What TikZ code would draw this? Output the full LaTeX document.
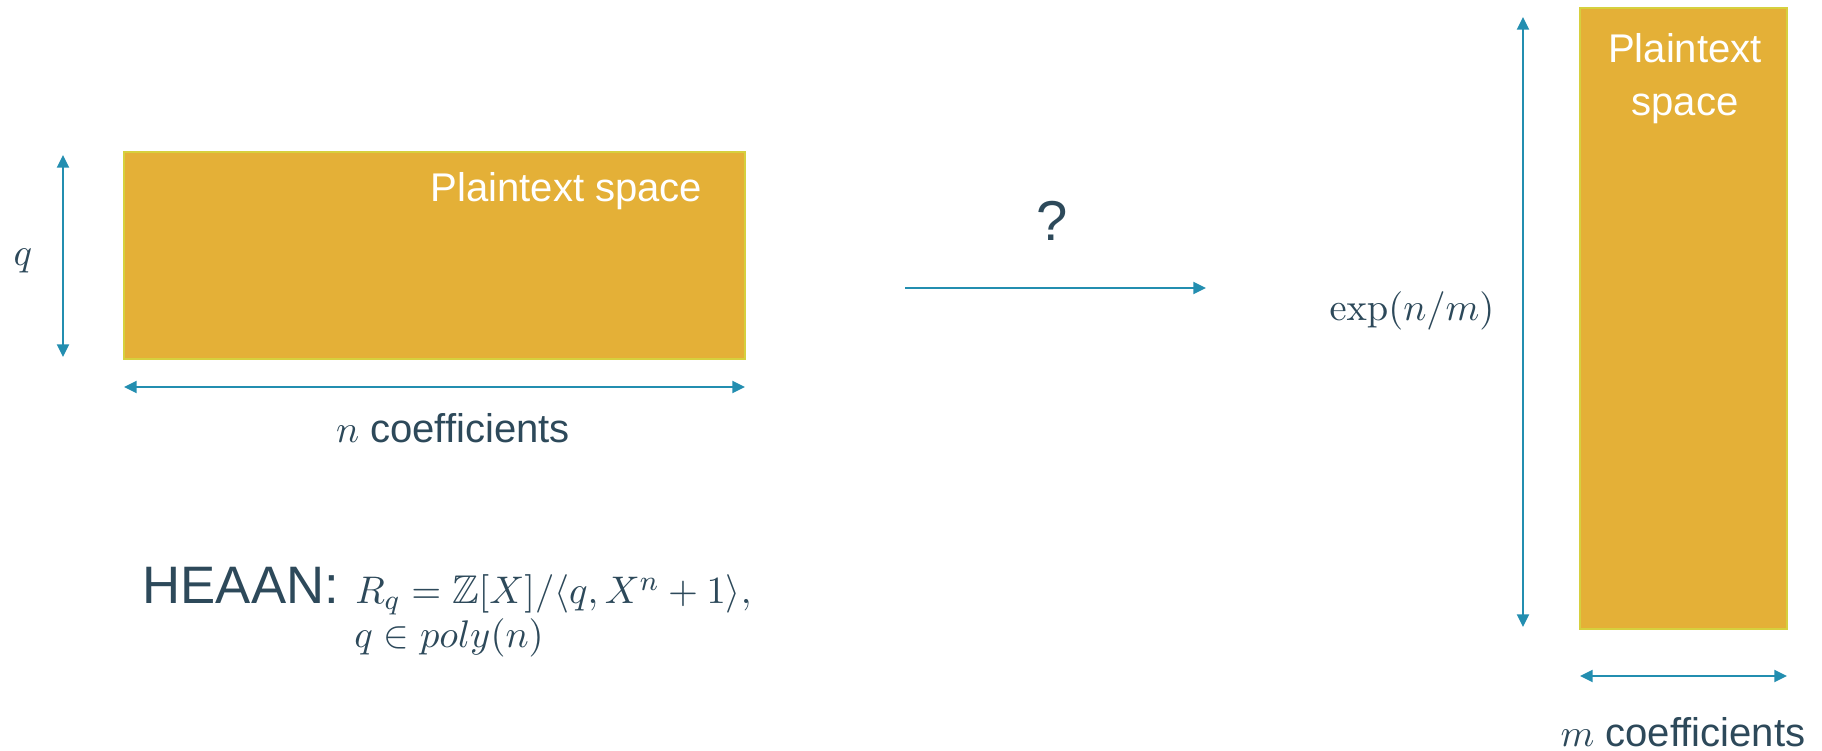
\documentclass[tikz,border=0pt]{standalone}
\usepackage{amsmath,amssymb}
\usepackage[no-math]{fontspec}
\setmainfont{Liberation Sans}
\usetikzlibrary{arrows.meta,positioning}
\definecolor{slate}{RGB}{45,73,90}
\definecolor{gold}{RGB}{228,176,55}
\definecolor{goldedge}{RGB}{214,208,62}
\definecolor{arrowblue}{RGB}{35,142,176}

\begin{document}
\begin{tikzpicture}[
    space/.style={draw=goldedge, fill=gold, line width=0.7pt, inner sep=0pt},
    spacelbl/.style={text=white, font=\fontsize{11.4}{15}\selectfont, align=center, inner sep=0pt},
    lbl/.style={text=slate, font=\fontsize{11.4}{14}\selectfont, inner sep=0pt},
    dim/.style={{Triangle[length=3.6pt,width=3.4pt]}-{Triangle[length=3.6pt,width=3.4pt]}, arrowblue, line width=0.6pt},
    arr/.style={-{Triangle[length=3.6pt,width=3.4pt]}, arrowblue, line width=0.6pt}
]
\useasboundingbox (0,0) rectangle (18.22,7.51);

% left: ring space
\node[space, minimum width=6.21cm, minimum height=2.07cm] (lbox) at (4.345,4.955) {};
\node[spacelbl, anchor=base east] (llbl) at (7.03,5.49) {Plaintext space};
\coordinate (qtop) at (0.63,5.96);
\coordinate (qbot) at (0.63,3.94);
\draw[dim] (qtop) -- (qbot);
\node[lbl] (qlbl) at (0.23,4.90) {$q$};
\coordinate (nl) at (1.24,3.64);
\coordinate (nr) at (7.45,3.64);
\draw[dim] (nl) -- (nr);
\node[lbl] (nlbl) at (4.53,3.23) {$n$ coefficients};

\node[lbl, font=\fontsize{15}{18}\selectfont, anchor=base west] (heaan) at (1.42,1.47) {HEAAN:};
\node[lbl, base right=0.15cm of heaan] (ring) {$R_q=\mathbb{Z}[X]/\langle q,X^n+1\rangle,$};
\node[lbl] (qpoly) at (4.49,1.13) {$q\in poly(n)$};

% middle: the map
\node[lbl, font=\fontsize{16}{19}\selectfont] (qm) at (10.52,5.30) {?};
\coordinate (mapfrom) at (9.05,4.63);
\coordinate (mapto) at (12.06,4.63);
\draw[arr] (mapfrom) -- (mapto);

% right: tall space
\node[space, minimum width=2.07cm, minimum height=6.21cm] (rbox) at (16.835,4.325) {};
\node[spacelbl] (rlbl) at (16.85,6.72) {Plaintext\\space};
\coordinate (etop) at (15.23,7.34);
\coordinate (ebot) at (15.23,1.24);
\draw[dim] (etop) -- (ebot);
\node[lbl] (explbl) at (14.12,4.40) {$\exp(n/m)$};
\coordinate (ml) at (15.80,0.75);
\coordinate (mr) at (17.87,0.75);
\draw[dim] (ml) -- (mr);
\node[lbl] (mlbl) at (16.83,0.19) {$m$ coefficients};
\end{tikzpicture}
\end{document}
